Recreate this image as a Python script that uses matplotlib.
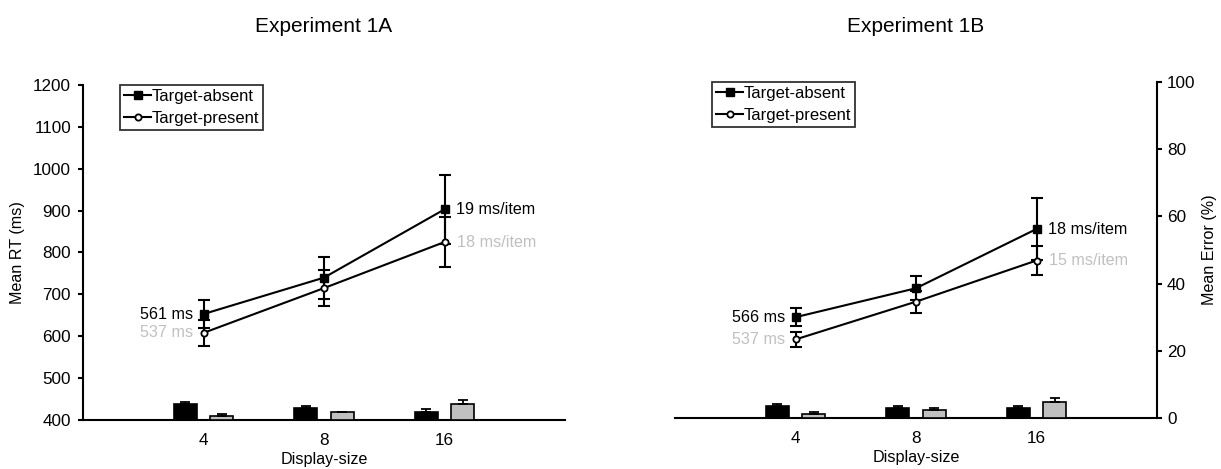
import matplotlib
matplotlib.use('Agg')
import matplotlib.pyplot as plt
import numpy as np

plt.rcParams['font.family'] = ['Liberation Sans', 'DejaVu Sans']

# ---------------- data ----------------
display_sizes = ['4', '8', '16']
titles = ['Experiment 1A', 'Experiment 1B']
series_names = ['Target-absent', 'Target-present']

# Experiment 1A : mean RT (ms) and SE
rt_1a_absent = [653, 740, 903]
rt_1a_absent_se = [34, 50, 82]
rt_1a_present = [608, 715, 825]
rt_1a_present_se = [31, 43, 59]
# Experiment 1A : mean error (%) and SE
err_1a_absent = [4.8, 3.6, 2.5]
err_1a_absent_se = [0.5, 0.6, 0.7]
err_1a_present = [1.2, 2.4, 4.7]
err_1a_present_se = [0.6, 0.1, 1.3]
intercepts_1a = ['561 ms', '537 ms']
slopes_1a = ['19 ms/item', '18 ms/item']

# Experiment 1B : mean RT (ms) and SE
rt_1b_absent = [640, 709, 850]
rt_1b_absent_se = [22, 28, 73]
rt_1b_present = [587, 677, 775]
rt_1b_present_se = [17, 26, 35]
# Experiment 1B : mean error (%) and SE
err_1b_absent = [3.65, 3.06, 3.06]
err_1b_absent_se = [0.5, 0.5, 0.5]
err_1b_present = [1.2, 2.5, 4.85]
err_1b_present_se = [0.6, 0.4, 1.1]
intercepts_1b = ['566 ms', '537 ms']
slopes_1b = ['18 ms/item', '15 ms/item']

# ---------------- style ----------------
W, H = 1221, 469
FS = 11.6
TFS = 12.3
LFS = 12
GRAY = '#c0c0c0'
LW = 1.5

fig = plt.figure(figsize=(W / 100, H / 100), dpi=100)


def px_rect(x0, y_top, x1, y_bot):
    return [x0 / W, 1 - y_bot / H, (x1 - x0) / W, (y_bot - y_top) / H]


def draw_panel(rect, title, rt_abs, rt_abs_se, rt_pre, rt_pre_se,
               er_abs, er_abs_se, er_pre, er_pre_se, intercepts, slopes,
               left_visible):
    ax = fig.add_axes(rect)
    axr = ax.twinx()
    x = np.arange(1, len(display_sizes) + 1)

    # RT axis
    ax.set_xlim(0, 4)
    ax.set_ylim(400, 1200)
    for s in ['top', 'right']:
        ax.spines[s].set_visible(False)
    ax.spines['bottom'].set_linewidth(LW)
    ax.spines['left'].set_linewidth(LW)
    ax.set_xticks(x)
    ax.set_xticklabels(display_sizes, fontsize=TFS)
    ax.tick_params(axis='x', length=0, pad=9.5)
    ax.set_xlabel('Display-size', fontsize=FS, labelpad=2.5)
    if left_visible:
        ax.set_yticks(np.arange(400, 1201, 100))
        ax.tick_params(axis='y', direction='out', length=3.6, width=LW,
                       labelsize=TFS, pad=5)
        ax.set_ylabel('Mean RT (ms)', fontsize=FS, labelpad=6)
    else:
        ax.spines['left'].set_visible(False)
        ax.set_yticks([])

    # Error axis
    axr.set_ylim(0, 100)
    for s in ['top', 'left', 'bottom']:
        axr.spines[s].set_visible(False)
    if left_visible:
        axr.spines['right'].set_visible(False)
        axr.set_yticks([])
    else:
        axr.spines['right'].set_linewidth(LW)
        axr.set_yticks(np.arange(0, 101, 20))
        axr.tick_params(axis='y', direction='out', length=3.6, width=LW,
                        labelsize=TFS, pad=3.6)
        axr.set_ylabel('Mean Error (%)', fontsize=FS, labelpad=5)

    # bars (error rates)
    bw = 0.19
    axr.bar(x - 0.15, er_abs, bw, color='black', edgecolor='black',
            linewidth=1.2, zorder=2)
    axr.bar(x + 0.15, er_pre, bw, color=GRAY, edgecolor='black',
            linewidth=1.2, zorder=2)
    axr.errorbar(x - 0.15, er_abs, yerr=[np.zeros(3), er_abs_se], fmt='none',
                 ecolor='black', elinewidth=1.3, capsize=3.6, capthick=1.3,
                 zorder=3)
    axr.errorbar(x + 0.15, er_pre, yerr=[np.zeros(3), er_pre_se], fmt='none',
                 ecolor='black', elinewidth=1.3, capsize=3.6, capthick=1.3,
                 zorder=3)

    # RT lines
    ax.errorbar(x, rt_abs, yerr=rt_abs_se, fmt='none', ecolor='black',
                elinewidth=LW, capsize=4.3, capthick=LW, zorder=3)
    ax.errorbar(x, rt_pre, yerr=rt_pre_se, fmt='none', ecolor='black',
                elinewidth=LW, capsize=4.3, capthick=LW, zorder=3)
    h1, = ax.plot(x, rt_abs, '-', color='black', lw=LW, marker='s',
                  markersize=6, markerfacecolor='black',
                  markeredgecolor='black', zorder=4, label=series_names[0])
    h2, = ax.plot(x, rt_pre, '-', color='black', lw=LW, marker='o',
                  markersize=4.5, markerfacecolor='white',
                  markeredgecolor='black', markeredgewidth=1.3, zorder=4,
                  label=series_names[1])

    # annotations
    ax.annotate(intercepts[0], xy=(x[0], rt_abs[0]), xytext=(-7.5, 0),
                textcoords='offset points', ha='right', va='center',
                fontsize=FS, color='black')
    ax.annotate(intercepts[1], xy=(x[0], rt_pre[0]), xytext=(-7.5, 0),
                textcoords='offset points', ha='right', va='center',
                fontsize=FS, color=GRAY)
    ax.annotate(slopes[0], xy=(x[-1], rt_abs[-1]), xytext=(8, 0),
                textcoords='offset points', ha='left', va='center',
                fontsize=FS, color='black')
    ax.annotate(slopes[1], xy=(x[-1], rt_pre[-1]), xytext=(9, 0),
                textcoords='offset points', ha='left', va='center',
                fontsize=FS, color=GRAY)

    leg = ax.legend(handles=[h1, h2], loc='upper left',
                    bbox_to_anchor=(0.077, 1.0), fontsize=LFS,
                    frameon=True, fancybox=False, borderpad=0.25,
                    handlelength=1.6, handletextpad=0.05, labelspacing=0.42,
                    borderaxespad=0.0)
    leg.get_frame().set_edgecolor('black')
    leg.get_frame().set_linewidth(1.3)

    # title
    pos = ax.get_position()
    fig.text(pos.x0 + pos.width / 2, 1 - 26 / H, title, ha='center',
             va='center', fontsize=15)
    return ax


draw_panel(px_rect(83, 85, 565, 420), titles[0],
           rt_1a_absent, rt_1a_absent_se, rt_1a_present, rt_1a_present_se,
           err_1a_absent, err_1a_absent_se, err_1a_present, err_1a_present_se,
           intercepts_1a, slopes_1a, left_visible=True)
draw_panel(px_rect(675, 82, 1157, 418), titles[1],
           rt_1b_absent, rt_1b_absent_se, rt_1b_present, rt_1b_present_se,
           err_1b_absent, err_1b_absent_se, err_1b_present, err_1b_present_se,
           intercepts_1b, slopes_1b, left_visible=False)

fig.savefig('out.png', dpi=100)
